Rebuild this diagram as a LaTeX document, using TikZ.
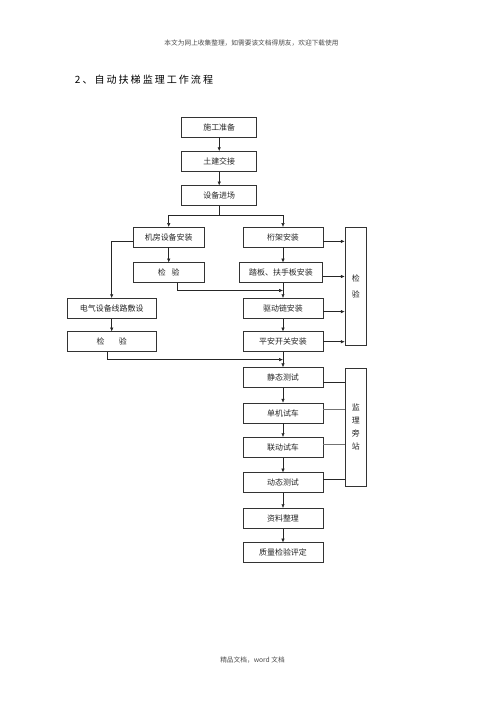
\documentclass[tikz,border=0pt]{standalone}
\usepackage{fontspec}
\newfontfamily\cjk{Noto Sans CJK SC}
\usetikzlibrary{calc,arrows.meta}

\tikzset{
  box/.style={draw=black!80,line width=0.6pt,fill=white,inner sep=0pt,
    minimum width=33.4mm,minimum height=8.4mm,text=black!85,
    font=\cjk\fontsize{9.5}{15.7}\selectfont},
  tallbox/.style={box,minimum width=9.1mm,minimum height=49.6mm,align=center},
  note/.style={text=black!70,font=\cjk\fontsize{8}{10}\selectfont},
  line/.style={line width=0.6pt,black!85}
}

\begin{document}
\begin{tikzpicture}[x=0.42mm,y=-0.42mm,>={Latex[length=4.5pt,width=4pt]}]
            \useasboundingbox (0,0) rectangle (500,707);
            \node[note] (top) at (251.5,43) {本文为网上收集整理，如需要该文档得朋友，欢迎下载使用};
            \node[anchor=west,font=\cjk\fontsize{12}{14}\selectfont\addfontfeature{LetterSpace=20}] (title) at (72,80) {2、自动扶梯监理工作流程};
            \node[note] (bottom) at (252.5,660) {精品文档，word 文档};
            % main column
            \node[box,minimum width=31.5mm] (sg) at (219.2,127) {施工准备};
            \node[box,minimum width=31.5mm] (tj) at (219.2,161.3) {土建交接};
            \node[box,minimum width=31.5mm] (jc) at (219.2,195.7) {设备进场};
            \node[box,minimum width=29.7mm] (jf) at (168.7,237.2) {机房设备安装};
            \node[box] (hj) at (283,237.2) {桁架安装};
            \node[box,minimum width=29.7mm] (jy1) at (168.7,272.7) {检\hspace{2.4mm}验};
            \node[box,minimum width=35mm] (tb) at (281,272.7) {踏板、扶手板安装};
            \node[box,minimum width=37.3mm] (dq) at (111.7,308.3) {电气设备线路敷设};
            \node[box,minimum width=37.3mm] (jy2) at (111.7,341.7) {检\hspace{6mm}验};
            \node[box] (qd) at (283,308.3) {驱动链安装};
            \node[box] (aq) at (283,341.7) {平安开关安装};
            \node[box] (jt) at (283,377.5) {静态测试};
            \node[box] (dj) at (283,413) {单机试车};
            \node[box] (ld) at (283,447.3) {联动试车};
            \node[box] (dt) at (283,482.7) {动态测试};
            \node[box] (zl) at (283,518.3) {资料整理};
            \node[box] (zp) at (283,552.7) {质量检验评定};
            % right side
            \node[tallbox] (jy) at (355.8,286.3) {检\\[4pt]验};
            \node[tallbox] (jl) at (355.8,426.8) {监\\理\\旁\\站};

            \draw[line,->] (sg) -- (tj);
            \draw[line,->] (tj) -- (jc);
            \draw[line] (jc.south) -- ++(0,9) coordinate (fork);
            \draw[line,->] (fork) -| (jf);
            \draw[line,->] (fork) -| (hj);
            \draw[line,->] (jf) -- (jy1);
            \draw[line,->] (hj) -- (hj |- tb.north);
            \draw[line,->] ([yshift=-5pt]jf.west) -| (dq);
            \draw[line,->] (dq) -- (jy2);
            \draw[line,->] (tb.south -| qd) -- (qd);
            \coordinate (m1) at ($(tb.south -| qd)!0.5!(qd.north)$);
            \draw[line,->] ([xshift=3.8mm]jy1.south) |- (m1);
            \draw[line,->] (qd) -- (aq);
            \draw[line,->] (aq) -- (jt);
            \coordinate (m2) at ($(aq.south)!0.5!(jt.north)$);
            \draw[line,->] ([xshift=-1.85mm]jy2.south) |- (m2);
            \draw[line,->] (jt) -- (dj);
            \draw[line,->] (dj) -- (ld);
            \draw[line,->] (ld) -- (dt);
            \draw[line,->] (dt) -- (zl);
            \draw[line,->] (zl) -- (zp);
            % to the check box
            \draw[line,->] ([yshift=-5pt]hj.east) coordinate (a1) -- (a1 -| jy.west);
            \draw[line,->] ([yshift=-4.5pt]tb.east) coordinate (a2) -- (a2 -| jy.west);
            \draw[line,->] ([yshift=-4pt]qd.east) coordinate (a3) -- (a3 -| jy.west);
            \draw[line,->] (aq.east) -- (aq.east -| jy.west);
            % to the supervision box
            \draw[line] ([yshift=-5.5pt]jt.east) coordinate (b1) -- (b1 -| jl.west);
            \draw[line,black!55] ([yshift=4pt]dj.east) coordinate (b2) -- (b2 -| jl.west);
            \draw[line,black!55] ([yshift=3.5pt]ld.east) coordinate (b3) -- (b3 -| jl.west);
            \draw[line] ([yshift=4pt]dt.east) coordinate (b4) -- (b4 -| jl.west);
        \end{tikzpicture}
\end{document}
